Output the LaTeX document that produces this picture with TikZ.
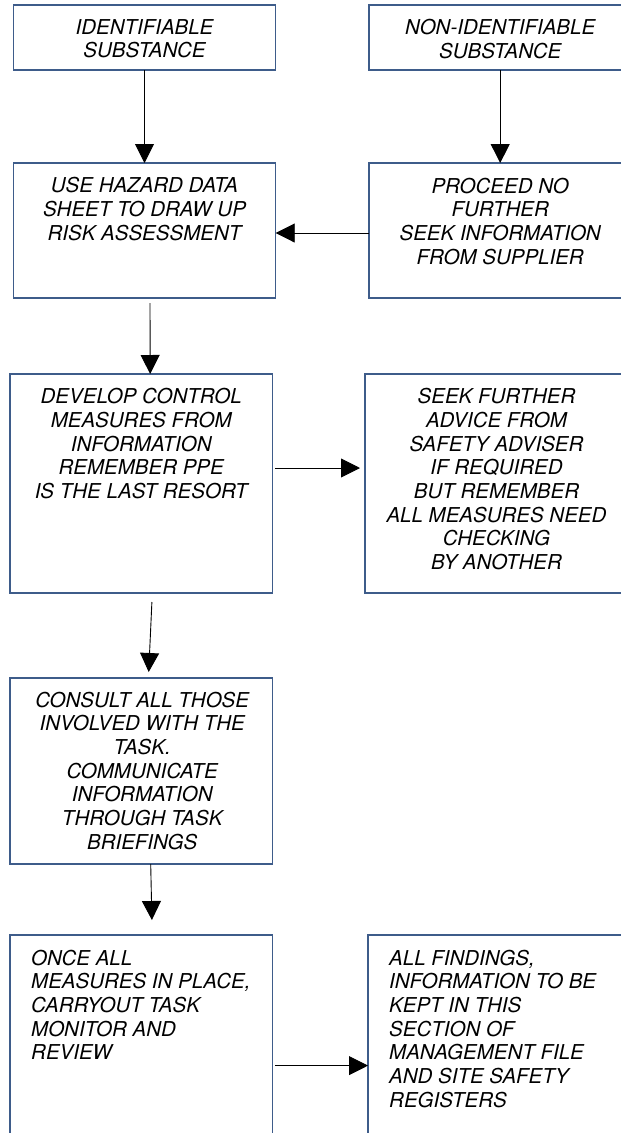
\documentclass[tikz,border=0pt]{standalone}
\usepackage{fontspec}
\setmainfont{TeX Gyre Heros}
\usetikzlibrary{arrows.meta,calc}
\definecolor{boxblue}{RGB}{62,92,138}
\begin{document}
\begin{tikzpicture}[x=1pt,y=-1pt,
  box/.style={draw=boxblue,line width=1.1pt,fill=white,minimum width=262.4pt,inner sep=0pt,outer sep=0pt,anchor=north west},
  txt/.style={font=\fontsize{20.5}{23.7}\selectfont\itshape,inner sep=0pt,anchor=north,align=center},
  ltxt/.style={font=\fontsize{20.5}{23.7}\selectfont\itshape,inner sep=0pt,anchor=north west,align=left},
  conn/.style={draw=black,line width=0.9pt,-{Triangle[length=19pt,width=19pt]}}]
\clip (0,0) rectangle (621,1133);
\fill[white] (0,0) rectangle (621,1133);
% boxes
\node[box,minimum height=65pt]  (B1) at (13.3,5) {};
\node[box,minimum height=65pt]  (B2) at (369,5) {};
\node[box,minimum height=135pt] (B3) at (13.3,163) {};
\node[box,minimum height=135pt] (B4) at (369,163) {};
\node[box,minimum height=219pt] (B5) at (10,374) {};
\node[box,minimum height=219pt,minimum width=263pt] (B6) at (365,374) {};
\node[box,minimum height=186pt] (B7) at (10,678) {};
\node[box,minimum height=230pt] (B8) at (10,935) {};
\node[box,minimum height=230pt] (B9) at (368,935) {};
% texts
\node[txt] (T1) at ($(B1.north)+(0,14)$) {IDENTIFIABLE\\SUBSTANCE};
\node[txt] (T2) at ($(B2.north)+(0,14)$) {NON-IDENTIFIABLE\\SUBSTANCE};
\node[txt] (T3) at ($(B3.north)+(0,14.2)$) {USE HAZARD DATA\\SHEET TO DRAW UP\\RISK ASSESSMENT};
\node[txt] (T4) at ($(B4.north)+(0,14.5)$) {PROCEED NO\\FURTHER\\SEEK INFORMATION\\FROM SUPPLIER};
\node[txt] (T5) at ($(B5.north)+(0,14.2)$) {DEVELOP CONTROL\\MEASURES FROM\\INFORMATION\\REMEMBER PPE\\IS THE LAST RESORT};
\node[txt] (T6) at ($(B6.north)+(0,14.2)$) {SEEK FURTHER\\ADVICE FROM\\SAFETY ADVISER\\IF REQUIRED\\BUT REMEMBER\\ALL MEASURES NEED\\CHECKING\\BY ANOTHER};
\node[txt] (T7) at ($(B7.north)+(1,13.5)$) {CONSULT ALL THOSE\\INVOLVED WITH THE\\TASK.\\COMMUNICATE\\INFORMATION\\THROUGH TASK\\BRIEFINGS};
\node[ltxt] (T8) at ($(B8.north west)+(21,14.5)$) {ONCE ALL\\MEASURES IN PLACE,\\CARRYOUT TASK\\MONITOR AND\\REVIEW};
\node[ltxt] (T9) at ($(B9.north west)+(21,14.5)$) {ALL FINDINGS,\\INFORMATION TO BE\\KEPT IN THIS\\SECTION OF\\MANAGEMENT FILE\\AND SITE SAFETY\\REGISTERS};
% connectors
\draw[conn] (B1.south) -- (B3.north);
\draw[conn] (B2.south) -- (B4.north);
\draw[conn] ($(B4.west)+(0,2.5)$) -- ($(B3.east)+(0,2.5)$);
\draw[conn] ($(B3.south)+(5.5,5)$) -- ($(B5.north)+(9,0)$);
\draw[conn] ($(B5.east)+(2.5,-15.5)$) -- ($(B6.west)+(-5,-15.5)$);
\draw[conn] ($(B5.south)+(10.7,9)$) -- ($(B7.north)+(7.5,-6)$);
\draw[conn] ($(B7.south)+(9.5,0)$) -- ($(B8.north)+(10.7,-15)$);
\draw[conn] ($(B8.north east)+(2.5,130.6)$) -- ($(B9.north west)+(0,130.6)$);
\end{tikzpicture}
\end{document}
